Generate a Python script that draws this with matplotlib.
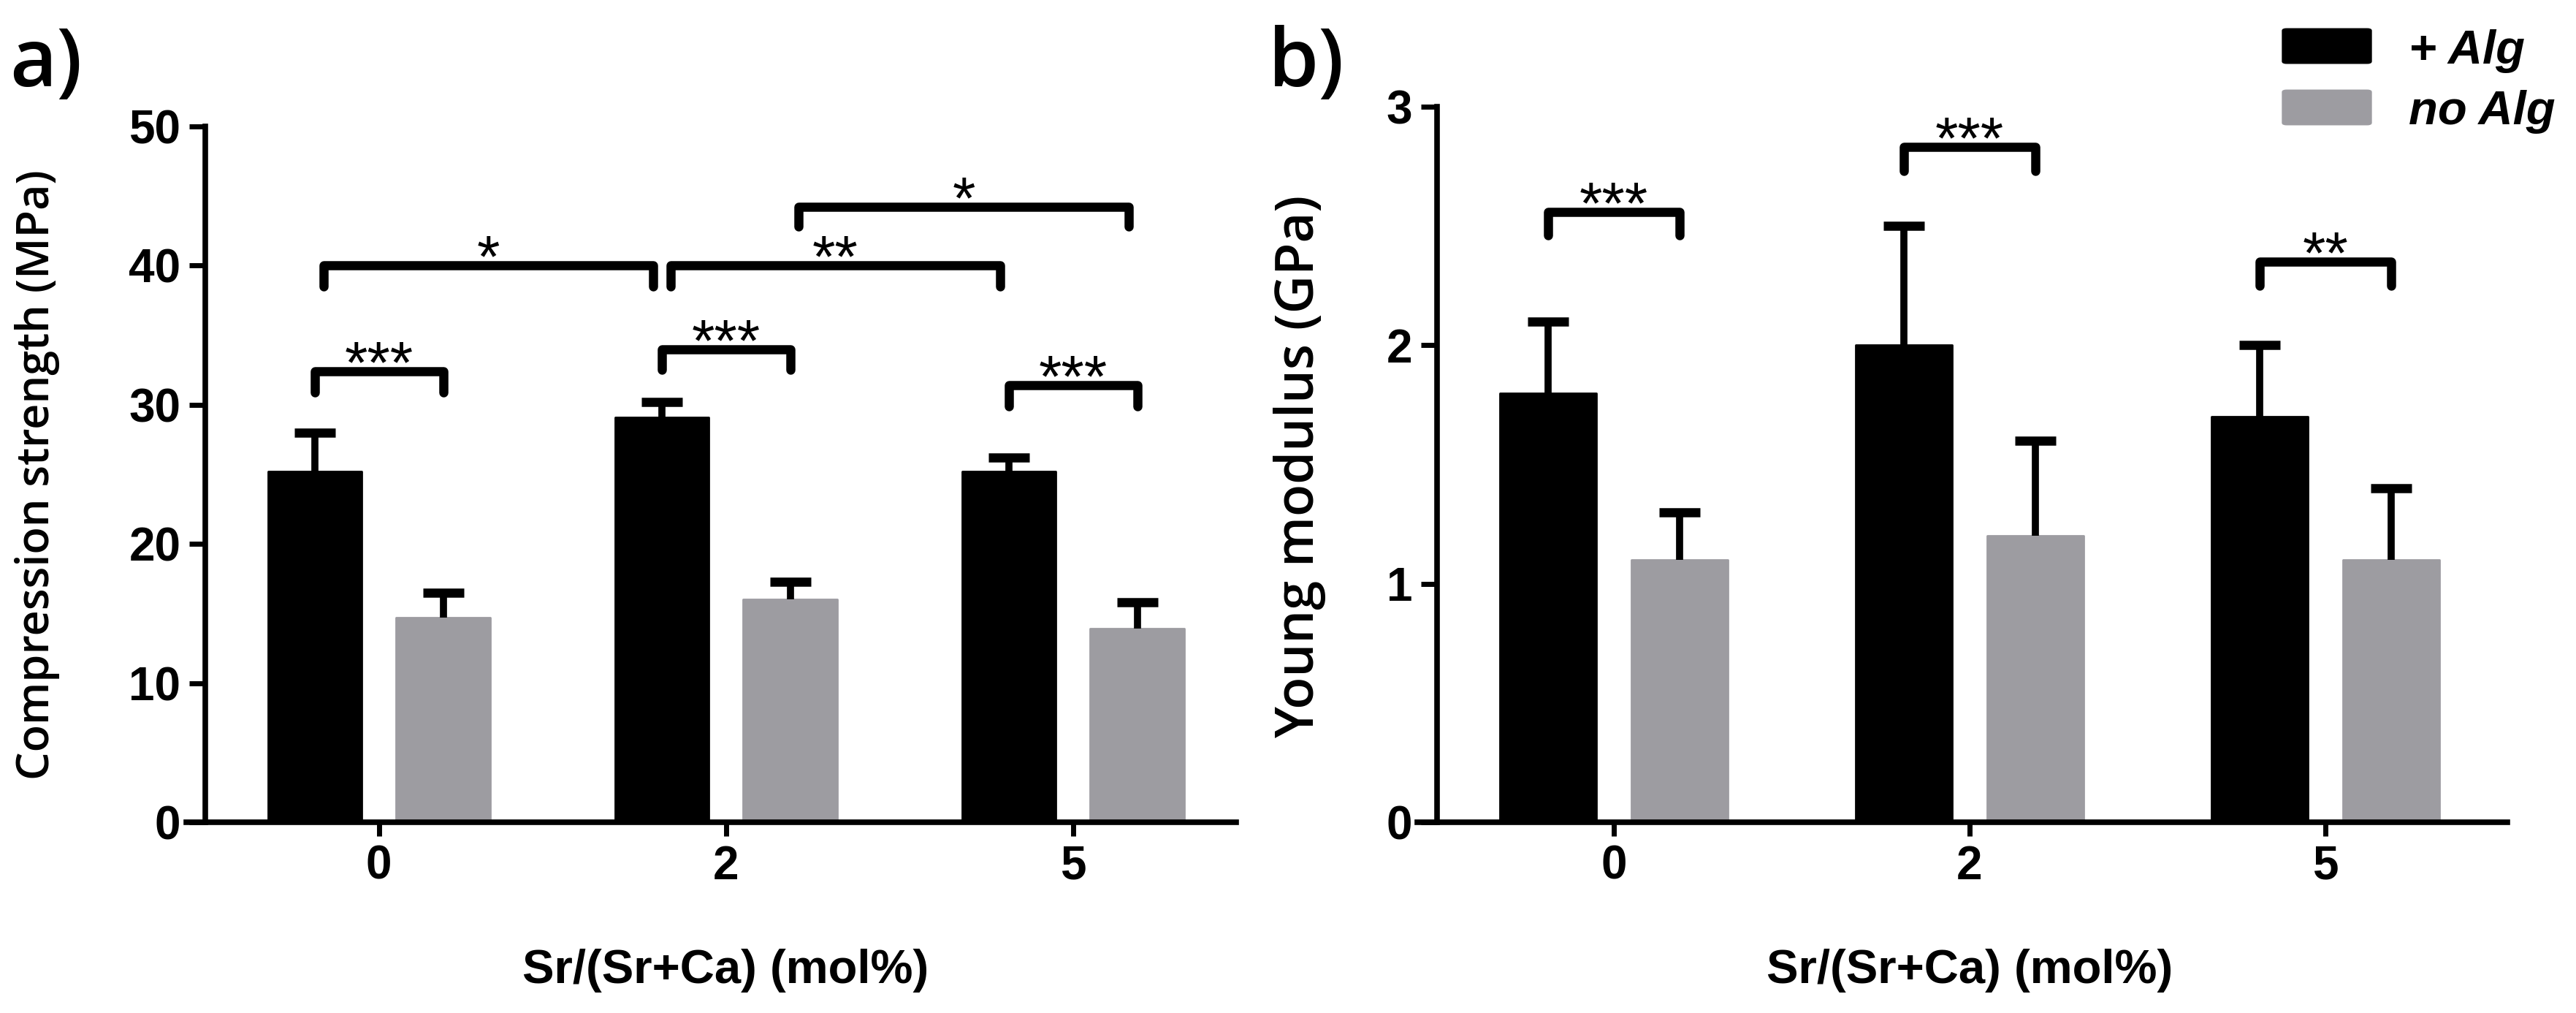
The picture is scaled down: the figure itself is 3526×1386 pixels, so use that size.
import numpy as np
import matplotlib
matplotlib.use("Agg")
import matplotlib.pyplot as plt
from matplotlib.patches import FancyBboxPatch

plt.rcParams['font.family'] = ['Liberation Sans', 'DejaVu Sans']

# data
groups = ["0", "2", "5"]
series = ["+ Alg", "no Alg"]
colors = ["#000000", "#9d9ca1"]

comp_alg = [25.2, 29.1, 25.2]
comp_alg_err = [2.8, 1.1, 1.0]
comp_noalg = [14.7, 16.0, 13.9]
comp_noalg_err = [1.8, 1.3, 1.9]

young_alg = [1.8, 2.0, 1.7]
young_alg_err = [0.3, 0.5, 0.3]
young_noalg = [1.1, 1.2, 1.1]
young_noalg_err = [0.2, 0.4, 0.3]

# significance: (group left, series left, group right, series right, bracket top, leg length, stars)
comp_sig = [
    (0, 0, 0, 1, 32.4, 1.5, "***"),
    (1, 0, 1, 1, 34.0, 1.5, "***"),
    (2, 0, 2, 1, 31.4, 1.5, "***"),
    (0, 0, 1, 0, 40.0, 1.5, "*"),
    (1, 0, 2, 0, 40.0, 1.5, "**"),
    (1, 1, 2, 1, 44.2, 1.4, "*"),
]
young_sig = [
    (0, 0, 0, 1, 2.56, 0.10, "***"),
    (1, 0, 1, 1, 2.83, 0.10, "***"),
    (2, 0, 2, 1, 2.35, 0.10, "**"),
]

W, H = 3526, 1386
fig = plt.figure(figsize=(W / 100, H / 100), dpi=100)

offset = 0.185
bar_w = 0.27
label_font = ['Open Sans', 'DejaVu Sans']


def px_axes(x0, x1, y0, y1):
    return fig.add_axes([x0 / W, 1 - y0 / H, (x1 - x0) / W, (y0 - y1) / H])


def draw_panel(ax, vals, ylim, yticks, sig, ylabel, ylab_size, spine_x, xlim):
    x = np.arange(len(groups))
    for s, (v, e) in enumerate(vals):
        xs = x + (2 * s - 1) * offset
        ax.bar(xs, v, width=bar_w, color=colors[s], edgecolor=colors[s],
               linewidth=2, joinstyle='round', zorder=2)
        eb = ax.errorbar(xs, v, yerr=[np.zeros(len(e)), e], fmt='none',
                         ecolor='black', elinewidth=7, capsize=20, capthick=9,
                         zorder=3)
        # only the upper cap is shown
        for cl in eb[1]:
            if np.allclose(cl.get_ydata(), v):
                cl.set_visible(False)

    for gl, sl, gr, sr, top, leg, stars in sig:
        xl = gl + (2 * sl - 1) * offset
        xr = gr + (2 * sr - 1) * offset
        if gl != gr:
            xl += 0.025
            xr -= 0.025
        ax.plot([xl, xl, xr, xr], [top - leg, top, top, top - leg], color='black',
                lw=9, solid_joinstyle='round', solid_capstyle='round',
                zorder=4, clip_on=False)
        ax.annotate(stars, xy=((xl + xr) / 2, top), xytext=(0, -11),
                    textcoords='offset points', ha='center', va='baseline',
                    fontsize=58, annotation_clip=False)

    ax.set_xlim(*xlim)
    ax.set_ylim(*ylim)
    ax.set_xticks(x)
    ax.set_xticklabels(groups)
    ax.set_yticks(yticks)
    for sp in ['top', 'right']:
        ax.spines[sp].set_visible(False)
    ax.spines['left'].set_position(('data', spine_x))
    ax.spines['left'].set_bounds(ylim[0], ylim[1])
    for sp in ['left', 'bottom']:
        ax.spines[sp].set_linewidth(5.5)
    ax.tick_params(axis='y', length=16, width=5, pad=8, labelsize=46)
    ax.tick_params(axis='x', length=14, width=5, pad=8, labelsize=46)
    for lab in ax.get_xticklabels() + ax.get_yticklabels():
        lab.set_fontweight('bold')
    ax.set_xlabel("Sr/(Sr+Ca) (mol%)", fontsize=47, fontweight='bold')
    ax.set_ylabel(ylabel, fontsize=ylab_size, family=label_font, fontweight='semibold')


# panel a
ax1 = px_axes(255, 1692, 1125, 173)
draw_panel(ax1, [(comp_alg, comp_alg_err), (comp_noalg, comp_noalg_err)],
           (0, 50), range(0, 51, 10), comp_sig,
           "Compression strength (MPa)", 44, -0.501, (-0.555, 2.47))
ax1.xaxis.label.set_va('baseline')
ax1.xaxis.set_label_coords((993 - 255) / 1437, (1125 - 1345) / 952)
ax1.yaxis.set_label_coords((82 - 255) / 1437, (1125 - 650) / 952)

# panel b
ax2 = px_axes(1940, 3432, 1125, 146)
draw_panel(ax2, [(young_alg, young_alg_err), (young_noalg, young_noalg_err)],
           (0, 3), range(0, 4), young_sig,
           "Young modulus (GPa)", 52, -0.497, (-0.552, 2.511))
ax2.xaxis.label.set_va('baseline')
ax2.xaxis.set_label_coords((2696 - 1940) / 1492, (1125 - 1345) / 979)
ax2.yaxis.set_label_coords((1815 - 1940) / 1492, (1125 - 638) / 979)

# panel letters
fig.text(13 / W, 1 - 118 / H, "a)", fontsize=80, va='baseline', ha='left',
         family=label_font, fontweight='semibold')
fig.text(1736 / W, 1 - 118 / H, "b)", fontsize=80, va='baseline', ha='left',
         family=label_font, fontweight='semibold')

# legend
for i, (name, c) in enumerate(zip(series, colors)):
    y_top = 37 + i * 84
    patch = FancyBboxPatch((3130 / W, 1 - (y_top + 47) / H), 110 / W, 42 / H,
                           boxstyle="round,pad=0.0015", transform=fig.transFigure,
                           facecolor=c, edgecolor=c, linewidth=2)
    fig.add_artist(patch)
    fig.text(3297 / W, 1 - (87 + i * 83) / H, name, fontsize=47, fontweight='bold',
             style='italic', va='baseline', ha='left')

fig.savefig("out.png", dpi=100, facecolor='white')
